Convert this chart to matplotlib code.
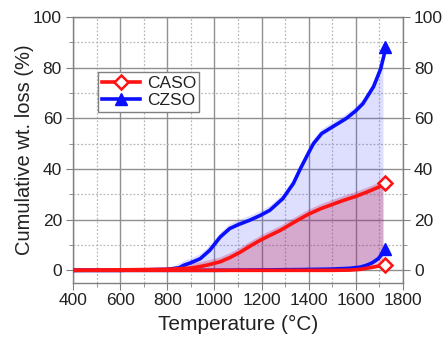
import matplotlib
matplotlib.use("Agg")
import matplotlib.pyplot as plt
import numpy as np
from matplotlib.ticker import MultipleLocator
from matplotlib.lines import Line2D

plt.rcParams['font.family'] = ['Liberation Sans', 'DejaVu Sans']

# Data
T_czso_hi = [400, 600, 800, 850, 870, 900, 940, 980, 1025, 1065, 1100, 1150, 1195, 1235,
             1290, 1335, 1365, 1400, 1420, 1455, 1490, 1525, 1560, 1600, 1630, 1675, 1705, 1725]
czso_hi = [0, 0, 0.4, 1.0, 2.0, 3.0, 4.6, 7.9, 13.2, 16.5, 18.0, 19.8, 21.7, 23.7,
           28.3, 34.3, 40.2, 46.5, 50.0, 54.0, 56.0, 58.0, 60.0, 63.0, 65.8, 72.5, 79.5, 87.0]
T_czso_lo = [400, 1000, 1365, 1500, 1575, 1620, 1645, 1670, 1695, 1725]
czso_lo = [0, 0, 0.3, 0.5, 0.8, 1.3, 2.0, 3.0, 4.6, 8.0]

T_caso_hi = [400, 800, 900, 940, 980, 1025, 1065, 1110, 1150, 1195, 1240, 1280, 1320,
             1365, 1400, 1450, 1500, 1550, 1600, 1650, 1700, 1725]
caso_hi = [0, 0.4, 0.9, 1.5, 2.3, 3.4, 5.0, 7.2, 9.5, 11.9, 14.0, 15.8, 18.0,
           20.4, 22.2, 24.3, 26.0, 27.7, 29.2, 31.0, 33.0, 34.5]
T_caso_lo = [400, 1500, 1575, 1620, 1675, 1700, 1725]
caso_lo = [0, 0, 0.1, 0.4, 1.3, 1.7, 2.2]

fill_end = 1715
band = 2.0

fig = plt.figure(figsize=(4.43, 3.38), dpi=100)
ax = fig.add_axes([73/443, 1-283/338, 330/443, 266/338])

def filled(Th, yh, Tl, yl, color, alpha):
    Th = np.array(Th, float); yh = np.array(yh, float)
    grid = np.union1d(Th, np.array(Tl, float))
    grid = np.append(grid[grid < fill_end], fill_end)
    hi = np.interp(grid, Th, yh)
    lo = np.interp(grid, np.array(Tl, float), np.array(yl, float))
    bandv = np.where(hi > 0.5, band, 0)
    ax.fill_between(grid, lo, hi + bandv, color=color, alpha=alpha, lw=0, zorder=2)

filled(T_czso_hi, czso_hi, T_czso_lo, czso_lo, '#4848ff', 0.18)
filled(T_caso_hi, caso_hi, T_caso_lo, caso_lo, '#c01848', 0.27)

BLUE = '#0a10ff'
RED = '#ff1212'
ax.plot(T_czso_hi, czso_hi, color=BLUE, lw=2.6, zorder=4, solid_capstyle='round')
ax.plot(T_czso_lo, czso_lo, color=BLUE, lw=2.6, zorder=4, solid_capstyle='round')
ax.plot(T_caso_hi, caso_hi, color=RED, lw=2.6, zorder=5, solid_capstyle='round')
ax.plot(T_caso_lo, caso_lo, color=RED, lw=2.6, zorder=5, solid_capstyle='round')

ax.plot([T_czso_hi[-1]], [czso_hi[-1] + 1], marker='^', ms=8.5, color=BLUE, zorder=6, ls='none')
ax.plot([T_czso_lo[-1]], [czso_lo[-1] + 0.5], marker='^', ms=8.5, color=BLUE, zorder=6, ls='none')
ax.plot([T_caso_hi[-1]], [caso_hi[-1]], marker='D', ms=7, mfc='white', mec=RED, mew=1.8, zorder=7, ls='none')
ax.plot([T_caso_lo[-1]], [caso_lo[-1]], marker='D', ms=7, mfc='white', mec=RED, mew=1.8, zorder=7, ls='none')

ax.set_xlim(400, 1800)
ax.set_ylim(-5, 100)
ax.xaxis.set_major_locator(MultipleLocator(200))
ax.xaxis.set_minor_locator(MultipleLocator(100))
ax.yaxis.set_major_locator(MultipleLocator(20))
ax.yaxis.set_minor_locator(MultipleLocator(10))
ax.grid(which='major', color='#909090', lw=1.0, zorder=0)
ax.grid(which='minor', color='#b8b8b8', lw=0.9, ls=(0, (1.5, 1.5)), zorder=0)
ax.set_axisbelow(True)
for s in ax.spines.values():
    s.set_color('#808080')
    s.set_linewidth(1.0)
ax.tick_params(which='both', direction='out', color='#808080', labelsize=12.5,
               right=True, labelright=True, top=False, labelcolor='#222222')
ax.tick_params(which='major', length=5)
ax.tick_params(which='minor', length=3)
ax.tick_params(axis='x', pad=2)
ax.tick_params(axis='y', pad=3)
ax.set_xlabel('Temperature (°C)', fontsize=15, labelpad=5, color='#222222')
ax.set_ylabel('Cumulative wt. loss (%)', fontsize=14.5, labelpad=-1, color='#222222')

h1 = Line2D([0, 1], [0, 0], color=RED, lw=2.6, marker='D', ms=7, mfc='white', mec=RED, mew=1.8, markevery=[1])
h2 = Line2D([0, 1], [0, 0], color=BLUE, lw=2.6, marker='^', ms=8.5, markevery=[1])
leg = ax.legend([h1, h2], ['CASO', 'CZSO'], loc='upper left', bbox_to_anchor=(0.076, 0.793),
                borderaxespad=0, fontsize=12.5, handlelength=2.2, handletextpad=0.4, borderpad=0.2,
                labelspacing=0.15, fancybox=False, framealpha=1, edgecolor='#808080')
leg.get_frame().set_linewidth(1.0)
for t in leg.get_texts():
    t.set_color('#222222')

fig.savefig('out.png', dpi=100)
